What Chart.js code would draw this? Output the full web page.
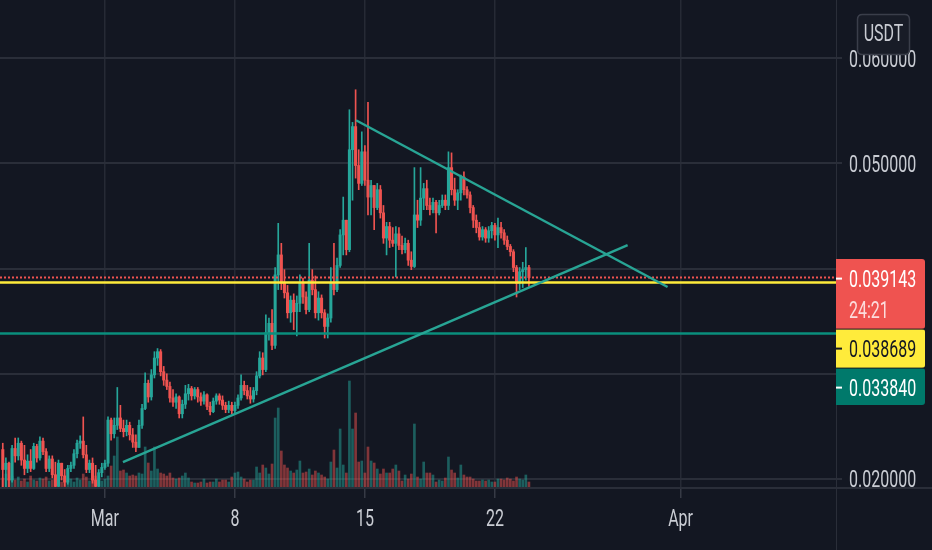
<!DOCTYPE html>
<html>
<head>
<meta charset="utf-8">
<script src="https://cdn.jsdelivr.net/npm/chart.js@4.4.1/dist/chart.umd.min.js"></script>
<style>
html, body { margin: 0; padding: 0; background: #131722; overflow: hidden; }
canvas { display: block; }
</style>
</head>
<body>
<canvas id="chart" width="932" height="550"></canvas>
<script>
// 4h candles, first one Feb 23 12:00, day 0 = Mar 1
var firstDay = -5.5
var candlesPerDay = 6
var firstOpen = 0.0228

var closes = [0.0209,0.0215,0.0199,0.0229,0.0222,0.0234,0.0218,0.0210,0.0217,0.0210,
  0.0231,0.0220,0.0236,0.0226,0.0210,0.0219,0.0204,0.0193,0.0215,0.0203,
  0.0197,0.0210,0.0213,0.0224,0.0234,0.0236,0.0223,0.0209,0.0215,0.0199,
  0.0193,0.0206,0.0211,0.0215,0.0256,0.0243,0.0251,0.0258,0.0248,0.0245,
  0.0251,0.0242,0.0235,0.0230,0.0251,0.0267,0.0291,0.0278,0.0299,0.0315,
  0.0321,0.0302,0.0294,0.0288,0.0277,0.0273,0.0278,0.0262,0.0271,0.0281,
  0.0286,0.0279,0.0285,0.0278,0.0274,0.0280,0.0269,0.0264,0.0274,0.0279,
  0.0275,0.0270,0.0266,0.0270,0.0265,0.0270,0.0277,0.0289,0.0284,0.0279,
  0.0276,0.0284,0.0298,0.0315,0.0304,0.0339,0.0348,0.0327,0.0394,0.0413,
  0.0386,0.0377,0.0358,0.0370,0.0359,0.0367,0.0387,0.0373,0.0361,0.0389,
  0.0380,0.0358,0.0372,0.0358,0.0345,0.0353,0.0387,0.0380,0.0403,0.0432,
  0.0446,0.0418,0.0513,0.0535,0.0498,0.0481,0.0511,0.0484,0.0468,0.0479,
  0.0458,0.0475,0.0453,0.0429,0.0440,0.0427,0.0424,0.0433,0.0422,0.0418,
  0.0424,0.0408,0.0402,0.0451,0.0446,0.0467,0.0476,0.0460,0.0456,0.0463,
  0.0453,0.0460,0.0465,0.0460,0.0496,0.0475,0.0465,0.0472,0.0487,0.0475,
  0.0470,0.0458,0.0446,0.0439,0.0430,0.0437,0.0429,0.0436,0.0441,0.0432,
  0.0439,0.0434,0.0427,0.0421,0.0416,0.0401,0.0386,0.0397,0.0399,0.0401,
  0.039143]

var highs = [0.0234,0.0220,0.0216,0.0232,0.0239,0.0239,0.0236,0.0232,0.0223,0.0228,
  0.0234,0.0233,0.0240,0.0239,0.0229,0.0222,0.0222,0.0216,0.0218,0.0215,
  0.0209,0.0213,0.0216,0.0228,0.0237,0.0241,0.0259,0.0232,0.0218,0.0220,
  0.0213,0.0209,0.0215,0.0218,0.0259,0.0258,0.0258,0.0287,0.0270,0.0256,
  0.0256,0.0254,0.0248,0.0242,0.0256,0.0271,0.0301,0.0294,0.0304,0.0321,
  0.0324,0.0323,0.0307,0.0300,0.0292,0.0285,0.0281,0.0279,0.0275,0.0289,
  0.0290,0.0288,0.0287,0.0287,0.0282,0.0283,0.0281,0.0273,0.0277,0.0281,
  0.0281,0.0279,0.0273,0.0274,0.0273,0.0273,0.0280,0.0299,0.0293,0.0289,
  0.0287,0.0287,0.0302,0.0321,0.0320,0.0356,0.0353,0.0361,0.0401,0.0443,
  0.0424,0.0399,0.0384,0.0374,0.0376,0.0374,0.0394,0.0391,0.0378,0.0424,
  0.0399,0.0393,0.0378,0.0375,0.0361,0.0357,0.0401,0.0424,0.0410,0.0437,
  0.0468,0.0446,0.0551,0.0539,0.0570,0.0513,0.0530,0.0517,0.0558,0.0484,
  0.0479,0.0481,0.0479,0.0460,0.0444,0.0444,0.0439,0.0440,0.0439,0.0431,
  0.0429,0.0427,0.0416,0.0496,0.0465,0.0496,0.0481,0.0484,0.0467,0.0467,
  0.0465,0.0465,0.0470,0.0470,0.0511,0.0510,0.0486,0.0475,0.0489,0.0492,
  0.0478,0.0473,0.0460,0.0451,0.0444,0.0440,0.0439,0.0440,0.0444,0.0443,
  0.0448,0.0444,0.0437,0.0431,0.0423,0.0418,0.0403,0.0401,0.0406,0.0420,
  0.0403]

var lows = [0.0192,0.0192,0.0192,0.0197,0.0216,0.0218,0.0213,0.0204,0.0206,0.0207,
  0.0209,0.0216,0.0218,0.0223,0.0207,0.0207,0.0201,0.0192,0.0192,0.0199,
  0.0193,0.0195,0.0207,0.0210,0.0220,0.0229,0.0220,0.0206,0.0206,0.0196,
  0.0192,0.0192,0.0202,0.0209,0.0212,0.0237,0.0239,0.0247,0.0245,0.0240,
  0.0241,0.0237,0.0230,0.0226,0.0230,0.0248,0.0266,0.0273,0.0275,0.0296,
  0.0308,0.0298,0.0289,0.0285,0.0273,0.0269,0.0267,0.0258,0.0258,0.0267,
  0.0275,0.0275,0.0276,0.0273,0.0270,0.0271,0.0266,0.0261,0.0263,0.0271,
  0.0271,0.0266,0.0263,0.0263,0.0262,0.0262,0.0267,0.0275,0.0280,0.0276,
  0.0272,0.0273,0.0280,0.0296,0.0299,0.0302,0.0332,0.0323,0.0324,0.0380,
  0.0380,0.0372,0.0353,0.0349,0.0342,0.0336,0.0359,0.0367,0.0357,0.0359,
  0.0375,0.0353,0.0351,0.0353,0.0334,0.0334,0.0349,0.0375,0.0378,0.0401,
  0.0413,0.0413,0.0416,0.0465,0.0486,0.0475,0.0479,0.0479,0.0451,0.0451,
  0.0437,0.0456,0.0448,0.0424,0.0413,0.0420,0.0421,0.0392,0.0418,0.0414,
  0.0415,0.0403,0.0399,0.0401,0.0439,0.0441,0.0456,0.0456,0.0451,0.0453,
  0.0434,0.0451,0.0458,0.0456,0.0456,0.0470,0.0460,0.0456,0.0465,0.0470,
  0.0467,0.0453,0.0439,0.0434,0.0427,0.0427,0.0425,0.0425,0.0429,0.0427,
  0.0420,0.0429,0.0423,0.0418,0.0412,0.0397,0.0373,0.0380,0.0382,0.0389,
  0.0383]

var volumes = [10,14,9,12,8,11,7,9,6,12, 8,7,10,9,11,7,8,13,10,6,
  8,7,9,6,10,8,14,11,7,9, 12,10,7,9,12,22,32,51,17,18,
  15,12,13,12,15,14,41,25,17,41, 19,15,14,12,15,10,9,10,12,15,
  10,6,5,5,6,9,5,6,6,9, 6,8,8,6,11,15,16,11,9,6,
  8,8,21,15,23,20,14,24,70,80, 37,23,20,17,15,18,27,15,16,19,
  13,17,15,13,11,9,26,38,20,59, 23,15,107,59,75,26,27,15,41,27,
  25,19,14,19,15,15,19,23,17,7, 13,9,14,64,11,9,26,15,15,13,
  6,8,7,10,31,18,15,10,23,13, 11,11,9,7,7,8,7,8,6,6,
  9,9,8,10,9,7,11,9,8,13, 6]

var tickDays = [0, 7, 14, 21, 31]
var tickLabels = ['Mar', '8', '15', '22', 'Apr']
var priceTicks = [0.02, 0.03, 0.04, 0.05, 0.06]

var lastPrice = 0.039143
var yellowLevel = 0.038689
var greenLevel = 0.033840
var countdown = '24:21'

var upperTrend = [{x: 13.52, y: 0.0541}, {x: 30.30, y: 0.03825}]
var lowerTrend = [{x: 0.97, y: 0.02161}, {x: 28.15, y: 0.04224}]

var xMin = -5.65, xMax = 39.37
var yMin = 0.019143, yMax = 0.065532

var BG = '#131722'
var UP = '#26a69a', DOWN = '#ef5350'
var UP_VOL = 'rgba(38,166,154,0.5)', DOWN_VOL = 'rgba(239,83,80,0.5)'

var days = [], opens = []
for (var i = 0; i < closes.length; i++) {
  days.push(firstDay + i / candlesPerDay)
  opens.push(i == 0 ? firstOpen : closes[i - 1])   // open = previous close
}
function isUp(i) { return closes[i] >= opens[i] }

function levelLine(v) { return [{x: xMin, y: v}, {x: xMax, y: v}] }

// text in this chart is drawn tall and narrow
var SY = 1.47
function stretchedText(ctx, txt, x, yMid, align, color) {
  ctx.save()
  ctx.font = '16px Roboto'
  ctx.fillStyle = color
  ctx.textAlign = align
  ctx.textBaseline = 'alphabetic'
  ctx.translate(x, yMid + 16 * 0.711 * SY / 2)
  ctx.scale(1, SY)
  ctx.fillText(txt, 0, 0)
  ctx.restore()
}

function rightRounded(ctx, x, y, w, h, r) {
  ctx.beginPath()
  ctx.moveTo(x, y)
  ctx.lineTo(x + w - r, y)
  ctx.quadraticCurveTo(x + w, y, x + w, y + r)
  ctx.lineTo(x + w, y + h - r)
  ctx.quadraticCurveTo(x + w, y + h, x + w - r, y + h)
  ctx.lineTo(x, y + h)
  ctx.closePath()
}

function roundBox(ctx, x, y, w, h, r) {
  ctx.beginPath()
  ctx.moveTo(x + r, y)
  ctx.lineTo(x + w - r, y)
  ctx.quadraticCurveTo(x + w, y, x + w, y + r)
  ctx.lineTo(x + w, y + h - r)
  ctx.quadraticCurveTo(x + w, y + h, x + w - r, y + h)
  ctx.lineTo(x + r, y + h)
  ctx.quadraticCurveTo(x, y + h, x, y + h - r)
  ctx.lineTo(x, y + r)
  ctx.quadraticCurveTo(x, y, x + r, y)
  ctx.closePath()
}

var overlay = {
  id: 'overlay',
  afterDraw: function(chart) {
    var ctx = chart.ctx, ys = chart.scales.y, xs = chart.scales.x, area = chart.chartArea
    var textCol = '#c9ccd3'

    priceTicks.forEach(function(v) {
      stretchedText(ctx, v.toFixed(6), area.right + 13, ys.getPixelForValue(v), 'left', textCol)
    })
    tickDays.forEach(function(d, k) {
      stretchedText(ctx, tickLabels[k], xs.getPixelForValue(d), 518, 'center', textCol)
    })

    // pane borders
    ctx.fillStyle = '#2a2e39'
    ctx.fillRect(area.right, 0, 1, chart.height)
    ctx.fillRect(0, area.bottom - 1, chart.width, 2)

    // price labels on the axis, stacked from the last price down
    var top = ys.getPixelForValue(lastPrice) - 18.5
    var boxes = [
      {h: 70, bg: '#ef5350', fg: '#ffffff', text: lastPrice.toFixed(6), sub: countdown},
      {h: 39, bg: '#ffeb3b', fg: '#131722', text: yellowLevel.toFixed(6)},
      {h: 37, bg: '#00796b', fg: '#ffffff', text: greenLevel.toFixed(6)}
    ]
    boxes.forEach(function(b, k) {
      ctx.fillStyle = b.bg
      rightRounded(ctx, area.right, top, 89, b.h, 3)
      ctx.fill()
      if (k > 0) {
        ctx.fillStyle = BG
        ctx.fillRect(area.right, top - 0.5, 89, 1)
      }
      var mid = top + 19.5
      ctx.fillStyle = b.fg
      ctx.fillRect(area.right, mid - 1, 6, 2)
      stretchedText(ctx, b.text, area.right + 13, mid, 'left', b.fg)
      if (b.sub) stretchedText(ctx, b.sub, area.right + 13, mid + 31, 'left', 'rgba(255,255,255,0.8)')
      top += b.h
    })

    // currency badge
    ctx.fillStyle = '#181c27'
    roundBox(ctx, 857.5, 14.5, 52, 40, 5)
    ctx.fill()
    ctx.strokeStyle = '#3a3e4a'
    ctx.lineWidth = 1.5
    ctx.stroke()
    stretchedText(ctx, 'USDT', 883.5, 33, 'center', textCol)
  }
}

var volumeData = volumes.map(function(v, i) { return {x: days[i], y: v} })
var wickData = days.map(function(d, i) { return {x: d, y: [lows[i], highs[i]]} })
var bodyData = days.map(function(d, i) { return {x: d, y: [opens[i], closes[i]]} })

new Chart(document.getElementById('chart'), {
  type: 'bar',
  data: {
    datasets: [
      {
        label: 'Volume', data: volumeData, yAxisID: 'yVol',
        backgroundColor: function(c) { return isUp(c.dataIndex) ? UP_VOL : DOWN_VOL },
        barThickness: 2, grouped: false, borderWidth: 0, order: 10
      },
      {
        label: 'Wick', data: wickData,
        backgroundColor: function(c) { return isUp(c.dataIndex) ? UP : DOWN },
        barThickness: 1, grouped: false, borderWidth: 0, order: 9
      },
      {
        label: 'Body', data: bodyData,
        backgroundColor: function(c) { return isUp(c.dataIndex) ? UP : DOWN },
        barThickness: 2.4, minBarLength: 1, grouped: false, borderWidth: 0, order: 8
      },
      {
        type: 'line', label: 'Support', data: levelLine(greenLevel),
        borderColor: '#0a8f7d', borderWidth: 2.5, pointRadius: 0, order: 4
      },
      {
        type: 'line', label: 'Level', data: levelLine(yellowLevel),
        borderColor: '#ffeb3b', borderWidth: 2.5, pointRadius: 0, order: 3
      },
      {
        type: 'line', label: 'Last', data: levelLine(lastPrice),
        borderColor: '#ef5350', borderWidth: 2, borderDash: [2, 2], pointRadius: 0, order: 2
      },
      {
        type: 'line', label: 'Upper trend', data: upperTrend,
        borderColor: '#28a595', borderWidth: 2.5, pointRadius: 0, order: 1
      },
      {
        type: 'line', label: 'Lower trend', data: lowerTrend,
        borderColor: '#28a595', borderWidth: 2.5, pointRadius: 0, order: 1
      }
    ]
  },
  options: {
    responsive: false,
    animation: false,
    devicePixelRatio: 1,
    layout: {padding: 0},
    plugins: {legend: {display: false}, tooltip: {enabled: false}},
    scales: {
      x: {
        type: 'linear', min: xMin, max: xMax, offset: false,
        afterBuildTicks: function(s) { s.ticks = tickDays.map(function(v) { return {value: v} }) },
        afterFit: function(s) { s.height = 62 },
        ticks: {display: false},
        grid: {offset: false, color: '#262a35', lineWidth: 1.5, tickLength: 10, tickColor: '#363a45'},
        border: {display: false}
      },
      y: {
        position: 'right', min: yMin, max: yMax,
        afterBuildTicks: function(s) { s.ticks = priceTicks.map(function(v) { return {value: v} }) },
        afterFit: function(s) { s.width = 96 },
        ticks: {display: false},
        grid: {color: '#2a2e39', lineWidth: 2, tickLength: 6},
        border: {display: false}
      },
      yVol: {display: false, min: 0, max: 488}
    }
  },
  plugins: [overlay]
})
</script>
</body>
</html>
